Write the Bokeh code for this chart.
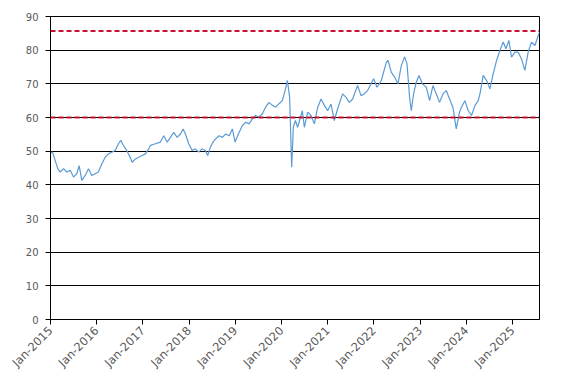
import math
from datetime import datetime, timedelta
import pandas as pd
from bokeh.plotting import figure
from bokeh.models import Span, FixedTicker, DatetimeTickFormatter, Range1d, ColumnDataSource
from bokeh.embed import file_html
from bokeh.resources import INLINE

# time as fractional years since 2015-01-01
years_since_2015 = [
    0.000, 0.043, 0.102, 0.158, 0.210, 0.281, 0.353, 0.426, 0.498, 0.569, 0.621, 0.677,
    0.751, 0.822, 0.893, 0.967, 1.038, 1.110, 1.183, 1.255, 1.326, 1.400, 1.471, 1.521,
    1.579, 1.650, 1.724, 1.767, 1.839, 1.910, 1.984, 2.055, 2.126, 2.163, 2.271, 2.379,
    2.451, 2.524, 2.596, 2.667, 2.741, 2.812, 2.871, 2.920, 2.992, 3.065, 3.136, 3.208,
    3.281, 3.353, 3.403, 3.461, 3.519, 3.576, 3.649, 3.721, 3.792, 3.866, 3.937, 3.995,
    4.067, 4.153, 4.225, 4.298, 4.369, 4.441, 4.514, 4.586, 4.657, 4.731, 4.802, 4.873,
    4.947, 5.018, 5.077, 5.127, 5.176, 5.220, 5.256, 5.300, 5.349, 5.423, 5.451, 5.494,
    5.566, 5.639, 5.711, 5.782, 5.856, 5.927, 5.998, 6.072, 6.143, 6.215, 6.323, 6.396,
    6.468, 6.539, 6.647, 6.721, 6.792, 6.863, 6.937, 6.993, 7.067, 7.160, 7.268, 7.305,
    7.376, 7.448, 7.521, 7.593, 7.664, 7.716, 7.772, 7.809, 7.859, 7.917, 7.976, 8.047,
    8.133, 8.205, 8.278, 8.350, 8.421, 8.494, 8.566, 8.637, 8.711, 8.782, 8.854, 8.897,
    8.970, 9.042, 9.113, 9.187, 9.258, 9.295, 9.366, 9.439, 9.511, 9.583, 9.654, 9.727,
    9.799, 9.857, 9.922, 9.978, 10.052, 10.123, 10.195, 10.267, 10.339, 10.411, 10.485,
    10.556, 10.584,
]
series_values = [
    49.5, 49.7, 47.2, 44.8, 43.8, 44.8, 43.8, 44.3, 42.3, 43.3, 45.7, 41.3,
    42.8, 44.8, 42.8, 43.3, 43.8, 46.2, 48.2, 49.2, 49.7, 50.2, 52.2, 53.2,
    51.7, 50.2, 48.2, 46.7, 47.7, 48.2, 48.7, 49.2, 50.7, 51.7, 52.2, 52.7,
    54.6, 52.7, 54.1, 55.6, 54.1, 55.1, 56.6, 55.1, 52.2, 50.2, 50.7, 49.7,
    50.7, 50.2, 48.7, 51.2, 52.7, 53.7, 54.6, 54.1, 55.1, 54.6, 56.6, 52.7,
    55.1, 57.6, 58.6, 58.1, 59.6, 60.6, 60.1, 61.1, 63.1, 64.5, 63.6, 63.1,
    64.1, 65.0, 68.0, 71.0, 66.0, 45.2, 57.1, 59.1, 57.1, 60.6, 62.0, 57.1,
    61.6, 60.6, 58.1, 63.0, 65.5, 63.6, 62.0, 64.0, 59.1, 62.6, 67.0, 66.0,
    64.5, 65.5, 69.5, 66.5, 67.0, 68.0, 70.0, 71.5, 69.0, 71.0, 76.4, 77.0,
    73.5, 72.0, 70.0, 75.4, 78.0, 76.0, 66.0, 62.0, 67.0, 70.5, 72.5, 70.0,
    69.0, 65.0, 69.5, 67.0, 64.5, 67.0, 68.0, 65.5, 63.0, 56.6, 61.6, 63.1,
    65.0, 62.0, 60.6, 63.6, 65.0, 67.0, 72.5, 71.0, 68.5, 73.0, 76.9, 79.9,
    82.4, 80.4, 82.9, 77.9, 79.4, 79.4, 77.4, 74.0, 79.4, 82.4, 81.4,
    84.3, 85.3,
]
threshold_levels = [60.0, 85.7]
tick_years = [2015, 2016, 2017, 2018, 2019, 2020, 2021, 2022, 2023, 2024, 2025]
y_ticks = [0, 10, 20, 30, 40, 50, 60, 70, 80, 90]

base = datetime(2015, 1, 1)
dates = [base + timedelta(days=t * 365.25) for t in years_since_2015]
src = ColumnDataSource(dict(date=dates, value=series_values))

p = figure(width=559, height=377, x_axis_type="datetime",
           output_backend="svg", toolbar_location=None,
           min_border_left=50, min_border_right=20,
           min_border_top=16, min_border_bottom=58)
p.x_range = Range1d(dates[0], dates[-1])
p.y_range = Range1d(0, 90)

p.line("date", "value", source=src, line_color="#5B9BD5", line_width=1.2)

for lvl in threshold_levels:
    p.add_layout(Span(location=lvl, dimension="width", line_color="#C8102E",
                      line_width=2, line_dash="5 3"))

tick_ms = [pd.Timestamp(y, 1, 1).value // 10**6 for y in tick_years]
p.xaxis.ticker = FixedTicker(ticks=tick_ms)
p.xaxis.formatter = DatetimeTickFormatter(years="%b-%Y", months="%b-%Y", days="%b-%Y",
                                          hours="%b-%Y", minutes="%b-%Y")
p.xaxis.major_label_orientation = math.pi / 4
p.yaxis.ticker = FixedTicker(ticks=y_ticks)

for ax in (p.xaxis, p.yaxis):
    ax.axis_line_color = "black"
    ax.axis_line_width = 1
    ax.major_tick_line_color = "black"
    ax.major_tick_out = 5
    ax.major_tick_in = 0
    ax.minor_tick_line_color = None
    ax.major_label_text_font = "DejaVu Sans"
    ax.major_label_text_font_size = "10px"
    ax.major_label_text_color = "#595959"
p.xaxis.major_label_text_font_size = "11.5px"
p.yaxis.major_label_standoff = 7
p.xaxis.major_label_standoff = 4

p.xgrid.grid_line_color = None
p.ygrid.grid_line_color = "black"
p.ygrid.grid_line_width = 1
p.ygrid.ticker = FixedTicker(ticks=y_ticks)

p.outline_line_color = "black"
p.outline_line_width = 1
p.background_fill_color = "white"
p.border_fill_color = "white"

open("out.html", "w").write(file_html(p, INLINE))
